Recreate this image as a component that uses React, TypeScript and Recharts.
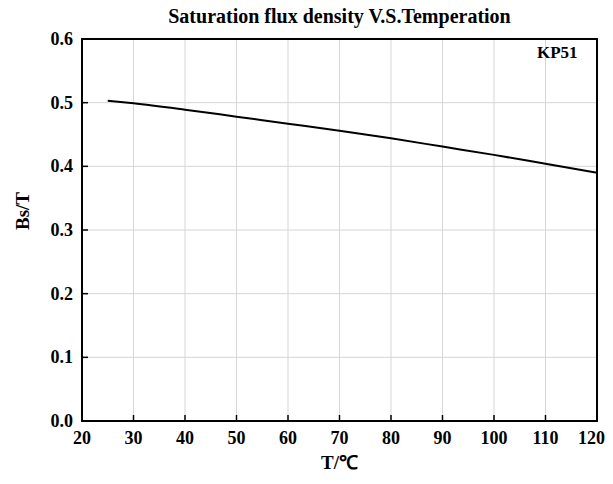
import { CartesianGrid, Line, LineChart, ReferenceArea, XAxis, YAxis } from 'recharts'

const temps = [25, 30, 40, 50, 60, 70, 80, 90, 100, 110, 120]
const bsValues = [0.503, 0.499, 0.489, 0.478, 0.467, 0.456, 0.444, 0.431, 0.418, 0.404, 0.39]
const xTicks = [20, 30, 40, 50, 60, 70, 80, 90, 100, 110, 120]
const yTicks = [0, 0.1, 0.2, 0.3, 0.4, 0.5, 0.6]

const data = temps.map((t, i) => ({ t, bs: bsValues[i] }))

const font = '"Liberation Serif", "Times New Roman", serif'

const XTick = ({ x, y, payload }: any) => {
  const last = payload.value === 120
  return (
    <g>
      {payload.value !== 20 && !last && (
        <line x1={x} x2={x} y1={y} y2={y - 6} stroke="#000" strokeWidth={1.5} />
      )}
      <text
        x={last ? x + 8 : x}
        y={y + 23}
        textAnchor={last ? 'end' : 'middle'}
        fontFamily={font}
        fontWeight="bold"
        fontSize={18}
        fill="#000"
      >
        {payload.value}
      </text>
    </g>
  )
}

const YTick = ({ x, y, payload }: any) => (
  <g>
    {payload.value !== 0 && payload.value !== 0.6 && (
      <line x1={x} x2={x + 6} y1={y} y2={y} stroke="#000" strokeWidth={1.5} />
    )}
    <text x={x - 9} y={y + 6} textAnchor="end" fontFamily={font} fontWeight="bold" fontSize={18} fill="#000">
      {payload.value.toFixed(1)}
    </text>
  </g>
)

export default function App() {
  return (
    <div style={{ position: 'relative', width: 597, height: 466 }}>
      <div
        style={{
          position: 'absolute', left: 74, top: -2, width: 515, textAlign: 'center',
          fontFamily: font, fontWeight: 'bold', fontSize: 20, lineHeight: 1,
        }}
      >
        Saturation flux density V.S.Temperation
      </div>
      <div
        style={{
          position: 'absolute', left: 529, top: 36, fontFamily: font,
          fontWeight: 'bold', fontSize: 17, lineHeight: 1, zIndex: 2,
        }}
      >
        KP51
      </div>
      <LineChart width={597} height={466} data={data} margin={{ top: 31, right: 8, left: 0, bottom: 0 }}>
        <CartesianGrid stroke="#d6d6d6" strokeWidth={1} />
        <XAxis
          dataKey="t"
          type="number"
          domain={[20, 120]}
          ticks={xTicks}
          height={53}
          axisLine={false}
          tickLine={false}
          tickSize={0}
          tickMargin={0}
          tick={<XTick />}
          interval={0}
          label={{ value: 'T/℃', position: 'insideBottom', offset: 5, fontFamily: font, fontWeight: 'bold', fontSize: 19, fill: '#000' }}
        />
        <YAxis
          type="number"
          domain={[0, 0.6]}
          ticks={yTicks}
          width={74}
          axisLine={false}
          tickLine={false}
          tickSize={0}
          tickMargin={0}
          tick={<YTick />}
          interval={0}
          label={{ value: 'Bs/T', angle: -90, position: 'insideLeft', offset: 14, fontFamily: font, fontWeight: 'bold', fontSize: 19, fill: '#000' }}
        />
        <ReferenceArea x1={20} x2={120} y1={0} y2={0.6} fill="none" stroke="#000" strokeWidth={2} fillOpacity={0} ifOverflow="visible" />
        <Line type="monotone" dataKey="bs" stroke="#000" strokeWidth={2} dot={false} isAnimationActive={false} />
      </LineChart>
    </div>
  )
}
